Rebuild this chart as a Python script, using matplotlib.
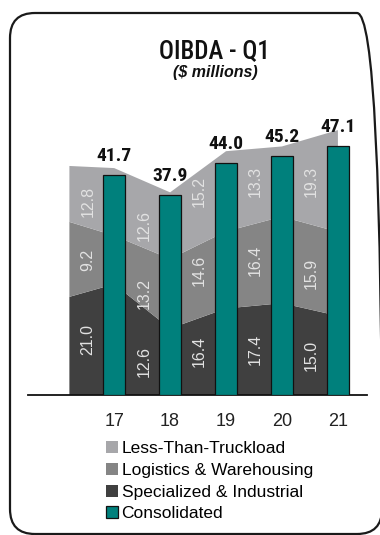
import matplotlib.pyplot as plt
from matplotlib.patches import FancyBboxPatch, Patch
import numpy as np

years = ["17", "18", "19", "20", "21"]
consolidated = [41.7, 37.9, 44.0, 45.2, 47.1]
specialized = [21.0, 12.6, 16.4, 17.4, 15.0]
logistics = [9.2, 13.2, 14.6, 16.4, 15.9]
ltl = [12.8, 12.6, 15.2, 13.3, 19.3]
# segment values where the shaded area starts, left of the first year
lead_values = [18.6, 14.2, 10.6]  # specialized, logistics, ltl

segments = ["Less-Than-Truckload", "Logistics & Warehousing",
            "Specialized & Industrial", "Consolidated"]

C_LTL = "#a7a7aa"
C_LOG = "#858585"
C_SPEC = "#404040"
C_BAR = "#00807c"
NARROW = ["Roboto Condensed", "Liberation Sans", "DejaVu Sans"]

plt.rcParams["font.family"] = ["Liberation Sans", "DejaVu Sans"]

W, H = 380, 535
fig = plt.figure(figsize=(W / 100, H / 100), dpi=100)

# rounded frame around the whole panel
frame = FancyBboxPatch((0.10, 0.01), 3.72, 5.21,
                       boxstyle="round,pad=0,rounding_size=0.25",
                       transform=fig.dpi_scale_trans, fill=False,
                       ec="#1a1a1a", lw=1.6)
fig.patches.append(frame)

ax = fig.add_axes([28 / W, (H - 395) / H, (367 - 28) / W, 295 / H])
x = np.arange(len(years))
lead_x = -0.8
ax_x = np.concatenate([[lead_x], x])

s1 = [lead_values[0]] + specialized
s2 = [lead_values[1]] + logistics
s3 = [lead_values[2]] + ltl
ax.stackplot(ax_x, s1, s2, s3, colors=[C_SPEC, C_LOG, C_LTL], lw=0, zorder=1)

ax.bar(x, consolidated, width=0.39, color=C_BAR, ec="#111111", lw=0.9, zorder=3)

for i, v in enumerate(consolidated):
    ax.text(x[i], v + 3.6, f"{v:.1f}", ha="center", va="center",
            fontsize=14, fontweight="bold", family=NARROW, color="#111111")

# segment labels in the gap left of each bar
lab_off = -0.47
for i in range(len(years)):
    bottom = 0
    for vals in (specialized, logistics, ltl):
        v = vals[i]
        ax.text(x[i] + lab_off, bottom + v / 2, f"{v:.1f}", rotation=90,
                ha="center", va="center", fontsize=11.5, color="#e2e2e2")
        bottom += v

ax.set_xlim(-1.54, 4.52)
ax.set_ylim(0, 55.9)
for side in ("top", "right", "left"):
    ax.spines[side].set_visible(False)
ax.spines["bottom"].set_linewidth(1.3)
ax.spines["bottom"].set_color("#111111")
ax.set_yticks([])
ax.set_xticks(x)
ax.set_xticklabels(years, fontsize=13, color="#222222")
ax.tick_params(axis="x", length=0, pad=13)
ax.patch.set_visible(False)

fig.text(214 / W, 1 - 51 / H, "OIBDA - Q1", ha="center", va="center",
         fontsize=18, fontweight="medium", family=NARROW, color="#111111")
fig.text(215 / W, 1 - 73 / H, "($ millions)", ha="center", va="center",
         fontsize=11.5, fontweight="bold", style="italic", color="#111111")

handles = [Patch(fc=C_LTL, ec="none"), Patch(fc=C_LOG, ec="none"),
           Patch(fc=C_SPEC, ec="none"), Patch(fc=C_BAR, ec="#111111", lw=0.9)]
fig.legend(handles, segments, loc="upper left",
           bbox_to_anchor=(106 / W, 1 - 441 / H), frameon=False,
           fontsize=12.5, handlelength=0.7, handleheight=0.7,
           handletextpad=0.2, labelspacing=0.38, borderpad=0, borderaxespad=0)

fig.savefig("out.png", dpi=100)
